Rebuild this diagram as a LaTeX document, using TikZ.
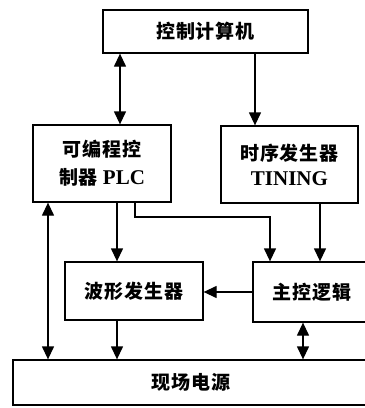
\documentclass[tikz,border=0pt]{standalone}
\usepackage{fontspec}
\setmainfont{Liberation Serif}
\newfontfamily\cjk{Noto Sans CJK SC}[LetterSpace=4]
\usetikzlibrary{arrows.meta}
\newcommand{\latn}{\rmfamily\bfseries\fontsize{21}{27}\selectfont}
\begin{document}
\begin{tikzpicture}[x=1pt,y=-1pt,
  box/.style={draw, line width=1.3pt, inner sep=0pt, align=center,
    font=\cjk\bfseries\fontsize{19}{28}\selectfont},
  arr/.style={line width=1.3pt, -{Triangle[length=13pt,width=12pt]}},
  darr/.style={line width=1.3pt, {Triangle[length=13pt,width=12pt]}-{Triangle[length=13pt,width=12pt]}}]
\useasboundingbox (0,0) rectangle (365,408);
\clip (0,0) rectangle (365,408);
\node[box, minimum width=205pt, minimum height=43pt] (comp) at (205.5,31.5) {控制计算机};
\node[box, minimum width=138pt, minimum height=77pt] (plc) at (102,163.5) {可编程控\\制器 {\latn PLC}};
\node[box, minimum width=137pt, minimum height=77pt] (tim) at (289.5,164.5) {时序发生器\\[-3pt]{\latn TINING}};
\node[box, minimum width=138pt, minimum height=58pt] (wave) at (134,291) {波形发生器};
\node[box, minimum width=118pt, minimum height=60pt] (logic) at (312,292) {主控逻辑};
\node[box, minimum width=356pt, minimum height=45pt] (field) at (191,382.5) {现场电源};
\coordinate (xa) at (120,0);
\coordinate (xb) at (255,0);
\coordinate (xc) at (117,0);
\coordinate (xd) at (135,217);
\coordinate (xe) at (270,217);
\coordinate (xf) at (320,0);
\coordinate (xg) at (303,0);
\coordinate (xh) at (48,0);
\draw[darr] (comp.south -| xa) -- (plc.north -| xa);
\draw[arr] (comp.south -| xb) -- (tim.north -| xb);
\draw[arr] (plc.south -| xc) -- (wave.north -| xc);
\draw[arr] (plc.south -| xd) -- (xd) -- (xe) -- (logic.north -| xe);
\draw[arr] (tim.south -| xf) -- (logic.north -| xf);
\draw[arr] (logic.west) -- (wave.east |- logic.west);
\draw[darr] (logic.south -| xg) -- (field.north -| xg);
\draw[arr] (wave.south -| xc) -- (field.north -| xc);
\draw[darr] (field.north -| xh) -- (plc.south -| xh);
\end{tikzpicture}
\end{document}
